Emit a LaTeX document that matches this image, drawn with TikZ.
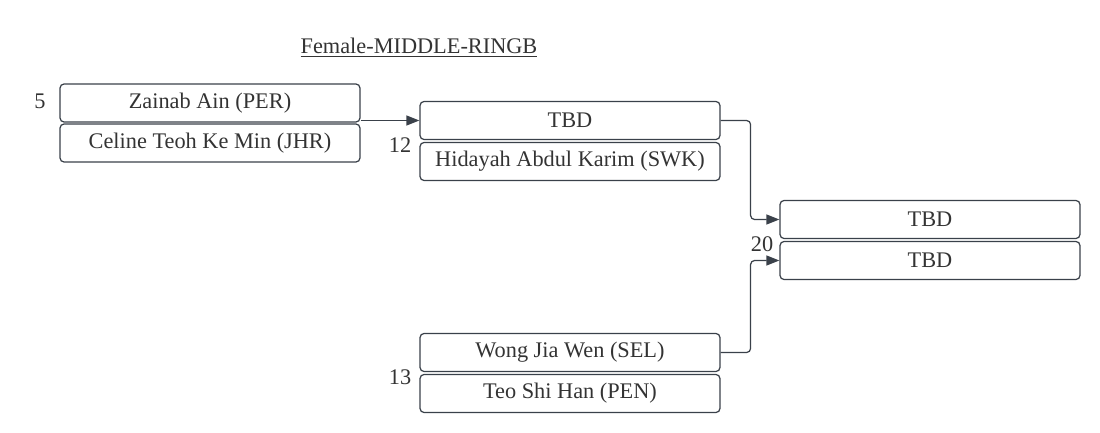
\documentclass[tikz,border=0pt]{standalone}
\usepackage{fontspec}
\setmainfont{Liberation Serif}
\usetikzlibrary{arrows.meta}
\definecolor{ink}{HTML}{3A414A}
\definecolor{txt}{HTML}{333333}
\begin{document}
\begin{tikzpicture}[x=0.02cm,y=-0.02cm,
  entry/.style={draw=ink,line width=0.7pt,rounded corners=0.08cm,minimum width=6cm,minimum height=0.76cm,inner sep=0pt,text=txt,font=\fontsize{12.7}{14}\selectfont},
  seed/.style={text=txt,font=\fontsize{12.7}{14}\selectfont,inner sep=0pt},
  conn/.style={draw=ink,line width=0.7pt,rounded corners=0.08cm,-{Triangle[length=0.26cm,width=0.2cm]}}]
\useasboundingbox (0,0) rectangle (1100,433);
\node[seed] (title) at (419,48) {\underline{Female-MIDDLE-RINGB}};
\node[entry] (z1) at (210,103) {Zainab Ain (PER)};
\node[entry] (z2) at (210,143) {Celine Teoh Ke Min (JHR)};
\node[entry] (b1) at (570,120.5) {TBD};
\node[entry] (b2) at (570,161.5) {Hidayah Abdul Karim (SWK)};
\node[entry] (c1) at (930,219.5) {TBD};
\node[entry] (c2) at (930,260.5) {TBD};
\node[entry] (d1) at (570,352.5) {Wong Jia Wen (SEL)};
\node[entry] (d2) at (570,393.5) {Teo Shi Han (PEN)};
\node[seed] (n5) at (40,101) {5};
\node[seed] (n12) at (400,145) {12};
\node[seed] (n20) at (762,244) {20};
\node[seed] (n13) at (400,377) {13};
\draw[conn] (z1.east |- b1.west) -- (b1.west);
\draw[conn] (b1.east) -- ++(30,0) |- (c1.west);
\draw[conn] (d1.east) -- ++(30,0) |- (c2.west);
\end{tikzpicture}
\end{document}
